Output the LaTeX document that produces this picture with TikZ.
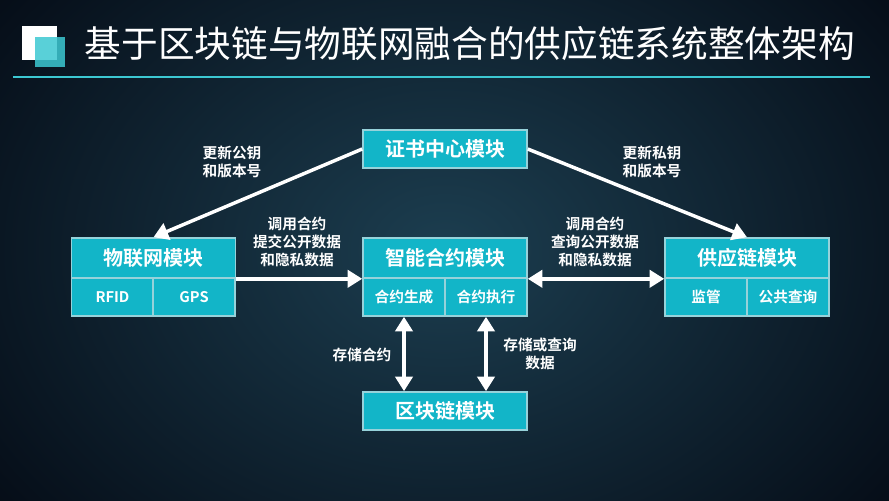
\documentclass[tikz,border=0pt]{standalone}
\usepackage{fontspec}
\setmainfont{Noto Sans CJK SC}
\newfontfamily\cjkb{Noto Sans CJK SC Bold}
\usetikzlibrary{arrows.meta}
\definecolor{boxc}{RGB}{18,181,200}
\definecolor{boxb}{RGB}{150,210,218}
\definecolor{linec}{RGB}{60,200,210}
\tikzset{
  mod/.style={draw=boxb,line width=1.2pt,fill=boxc,text=white,font=\cjkb\fontsize{15}{15}\selectfont},
  cell/.style={draw=boxb,line width=1.2pt,fill=boxc,text=white,font=\cjkb\fontsize{11}{11}\selectfont},
  lab/.style={text=white,font=\cjkb\fontsize{11}{13.5}\selectfont,align=center},
  arr/.style={white,line width=2.6pt,-{Triangle[length=11pt,width=13pt]}},
  darr/.style={white,line width=2.6pt,{Triangle[length=11pt,width=13pt]}-{Triangle[length=11pt,width=13pt]}}
}
\begin{document}
\begin{tikzpicture}[x=0.75pt,y=-0.75pt]
\useasboundingbox (0,0) rectangle (889,500);
\fill[black!95!blue] (0,0) rectangle (889,500);
\shade[inner color={rgb,255:red,28;green,62;blue,80},outer color={rgb,255:red,4;green,10;blue,20}] (-150,-200) rectangle (1039,700);
% title
\fill[white] (22,26) rectangle (57,60);
\fill[linec,opacity=0.85] (35,37) rectangle (65,67);
\draw[linec,line width=1.5pt] (13,77) -- (870,77);
\node[anchor=west,text=white,font=\fontsize{27.5}{27.5}\selectfont] (title) at (80,44) {基于区块链与物联网融合的供应链系统整体架构};
% modules
\node[mod,minimum width=123pt,minimum height=28.5pt] (cert) at (445,149) {证书中心模块};
\node[mod,minimum width=123pt,minimum height=30pt] (iot) at (153.5,258) {物联网模块};
\node[cell,minimum width=61.5pt,minimum height=28.5pt] (rfid) at (112.5,297) {RFID};
\node[cell,minimum width=61.5pt,minimum height=28.5pt] (gps) at (194,297) {GPS};
\node[mod,minimum width=123pt,minimum height=30pt] (sc) at (445,258) {智能合约模块};
\node[cell,minimum width=61.5pt,minimum height=28.5pt] (gen) at (404,297) {合约生成};
\node[cell,minimum width=61.5pt,minimum height=28.5pt] (exe) at (486,297) {合约执行};
\node[mod,minimum width=123pt,minimum height=30pt] (sup) at (747,258) {供应链模块};
\node[cell,minimum width=61.5pt,minimum height=28.5pt] (jg) at (706,297) {监管};
\node[cell,minimum width=61.5pt,minimum height=28.5pt] (gq) at (788,297) {公共查询};
\node[mod,minimum width=123pt,minimum height=28.5pt] (bc) at (445,411) {区块链模块};
% arrows
\draw[arr] (cert.west) -- (iot.north);
\draw[arr] (cert.east) -- (sup.north);
\draw[arr] (iot.south east) -- (sc.south west);
\draw[darr] (sc.south east) -- (sup.south west);
\draw[darr] (gen.south) -- (gen.south |- bc.north);
\draw[darr] (exe.south) -- (exe.south |- bc.north);
% labels
\node[lab] (l1) at (232,162) {更新公钥\\和版本号};
\node[lab] (l2) at (652,162) {更新私钥\\和版本号};
\node[lab] (l3) at (297,242) {调用合约\\提交公开数据\\和隐私数据};
\node[lab] (l4) at (595,242) {调用合约\\查询公开数据\\和隐私数据};
\node[lab] (l5) at (362,355) {存储合约};
\node[lab] (l6) at (540,354) {存储或查询\\数据};
\end{tikzpicture}
\end{document}
